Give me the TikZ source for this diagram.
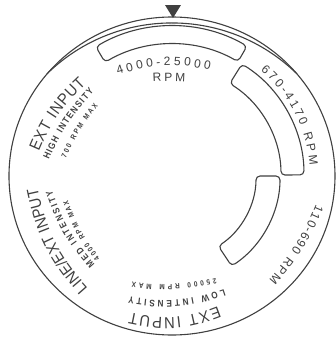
\documentclass[tikz,border=0pt]{standalone}
\usepackage{fontspec}
\setmainfont{Liberation Sans}
\newfontfamily\bigfam[FakeStretch=0.92]{Liberation Sans}
\newfontfamily\condfam[FakeStretch=0.86]{Liberation Sans}
\usetikzlibrary{decorations.text}
\definecolor{ink}{HTML}{404040}
\newcommand\fbig{\bigfam\fontsize{16pt}{16pt}\selectfont\color{ink}}
\newcommand\fmid{\condfam\bfseries\fontsize{9.5pt}{9.5pt}\selectfont\color{ink}}
\newcommand\fsmall{\condfam\bfseries\fontsize{7.5pt}{7.5pt}\selectfont\color{ink}}
\newcommand\frange{\fontsize{12pt}{12pt}\selectfont\color{ink}}
\tikzset{
  rim/.style={draw=ink, line width=1.1pt},
  band/.style={draw=ink, line width=1.1pt, rounded corners=4pt},
  lbl/.style={decorate, decoration={text along path, text align={fit to path}}},
}
\begin{document}
\begin{tikzpicture}[x=1pt,y=1pt]
\useasboundingbox (-172,-165) rectangle (164,176);
\fill[white] (-172,-165) rectangle (164,176);
% rim
\draw[rim] (0,0) ellipse[x radius=163, y radius=159];
\draw[rim] (124.9,102.2) arc[start angle=45.7, end angle=134.3, radius=178.9];
% pointer
\fill[ink] (-7,171) -- (9,171) -- (1,158) -- cycle;
% slots
\draw[band] (60:150) arc[start angle=60, end angle=120.5, radius=150]
  -- (120.5:132) arc[start angle=120.5, end angle=60, radius=132] -- cycle;
\draw[band] (0.5:132) arc[start angle=0.5, end angle=58, radius=132]
  -- (58:109) arc[start angle=58, end angle=0.5, radius=109] -- cycle;
\draw[band] (-56.5:108) arc[start angle=-56.5, end angle=0, radius=108]
  -- (0:84) arc[start angle=0, end angle=-56.5, radius=84] -- cycle;
% range labels
\path[lbl, decoration={text={|\frange|4000-25000}}] (-54,101) to[bend left=15] (38,106);
\path[lbl, decoration={text={|\frange|RPM}}] (-19,94) to[bend left=3] (13,94);
\path[lbl, decoration={text={|\frange|670-4170 RPM}}] (50:138) arc[start angle=50, end angle=4.5, radius=138];
\path[lbl, decoration={text={|\frange|110-690 RPM}}] (144,-28) to[bend left=9] (97,-104);
% bottom group
\path[lbl, decoration={text={|\fbig|EXT INPUT}}] (46,-130) to[bend left=17] (-42,-137);
\path[lbl, decoration={text={|\fmid|LOW INTENSITY}}] (52,-113) to[bend left=14] (-43,-121);
\path[lbl, decoration={text={|\fsmall|25000 RPM MAX}}] (44,-102) to[bend left=10] (-40,-106);
% upper left group
\path[lbl, decoration={text={|\fbig|EXT INPUT}}] (-133,24) to[bend left=12] (-86,92);
\path[lbl, decoration={text={|\fmid|HIGH INTENSITY}}] (-123,16) to[bend left=10] (-78,84);
\path[lbl, decoration={text={|\fsmall|700 RPM MAX}}] (-106,18) to[bend left=8] (-74,70);
% lower left group
\path[lbl, decoration={text={|\fbig|LINE/EXT INPUT}}] (-84,-112) to[bend left=15] (-134,-14);
\path[lbl, decoration={text={|\fmid|MED INTENSITY}}] (-77,-88) to[bend left=12] (-120,-14);
\path[lbl, decoration={text={|\fsmall|4000 RPM MAX}}] (-72,-82) to[bend left=10] (-104,-24);
\end{tikzpicture}
\end{document}
